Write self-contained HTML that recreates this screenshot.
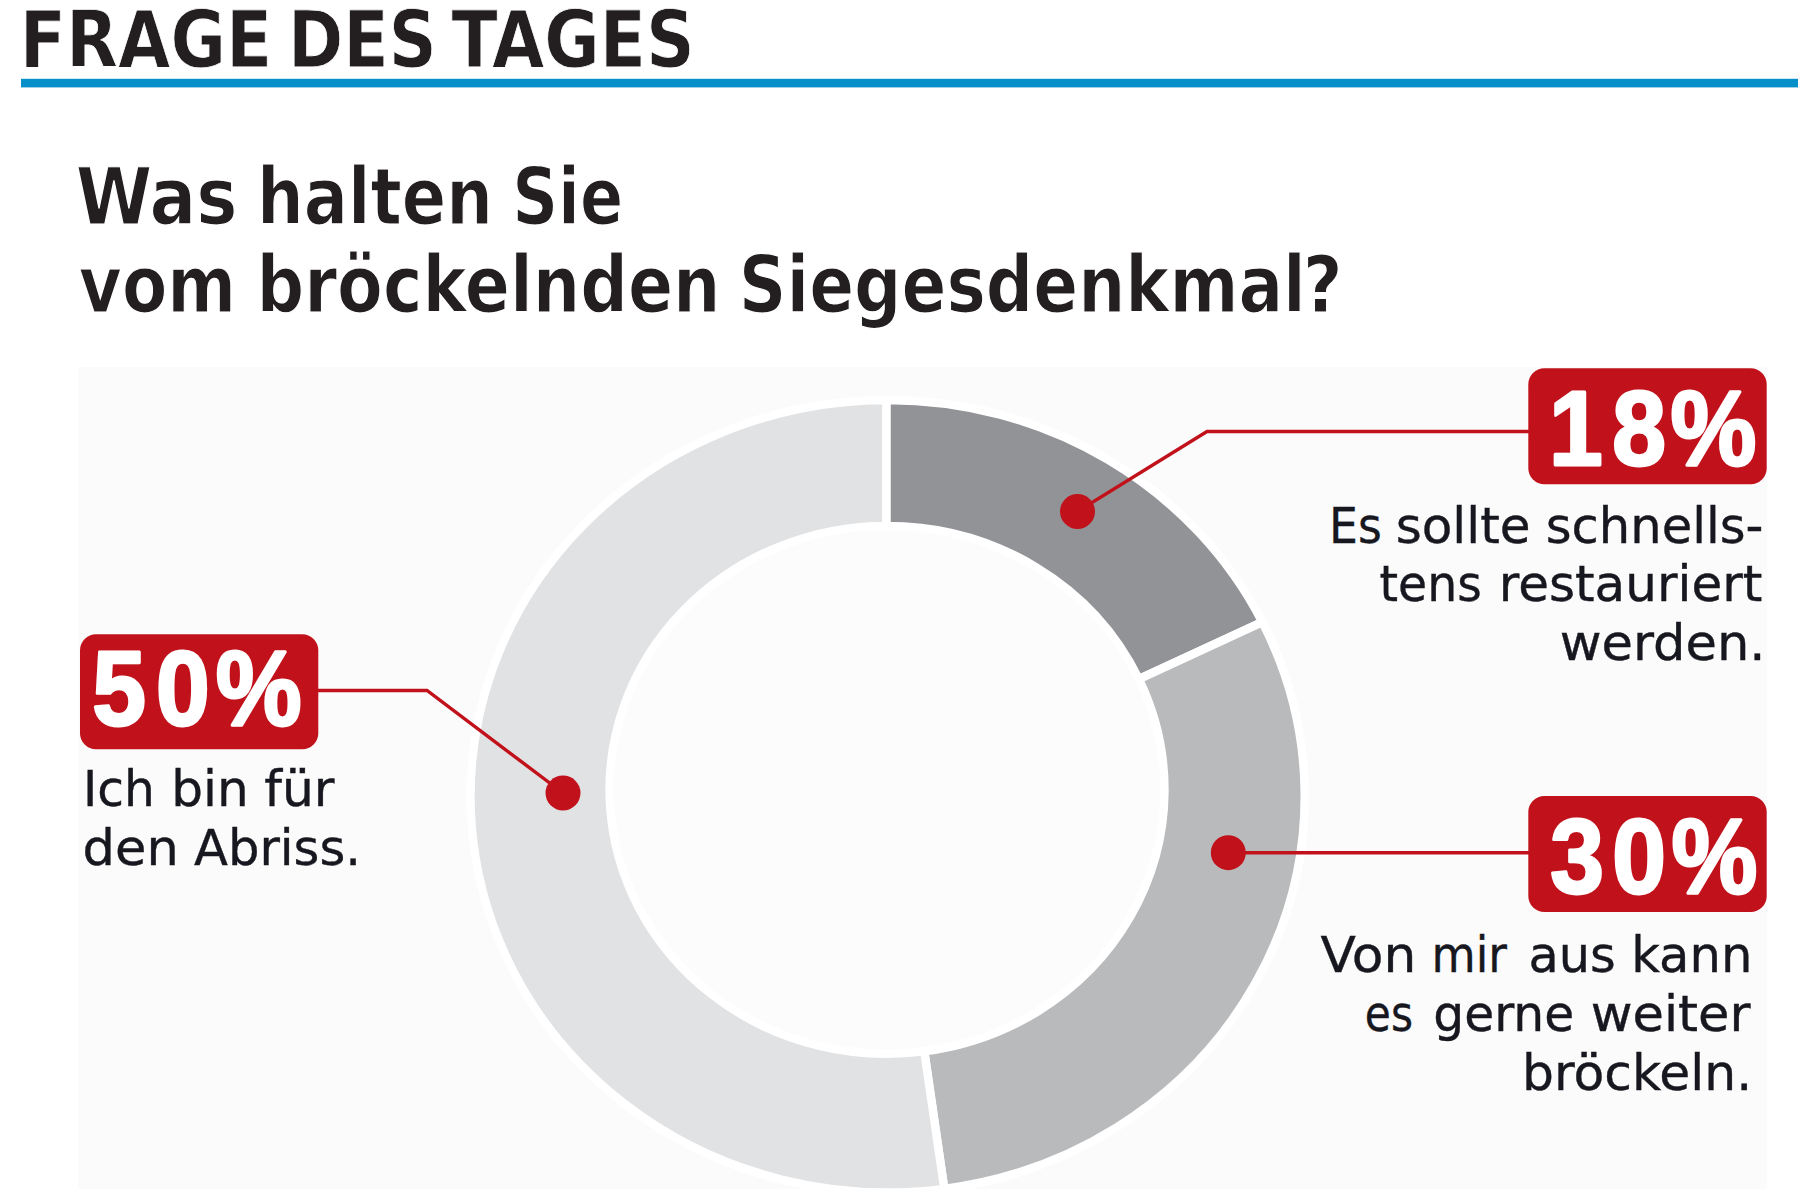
<!DOCTYPE html>
<html lang="de">
<head>
<meta charset="utf-8">
<title>Frage des Tages</title>
<style>
html,body{margin:0;padding:0;background:#ffffff;}
body{width:1800px;height:1200px;overflow:hidden;position:relative;}
svg{display:block;position:absolute;left:0;top:0;}
text{white-space:pre;}
.hd{font-family:"DejaVu Sans Condensed","DejaVu Sans","Liberation Sans",sans-serif;font-weight:700;font-size:79.1px;fill:#231f20;stroke:#ffffff;stroke-linejoin:miter;}
.h0{font-size:77.9px;stroke-width:0.8px;}
.h1{stroke-width:1.2px;}
.num{font-family:"Liberation Sans",sans-serif;font-weight:700;font-size:105.5px;fill:#ffffff;stroke:#ffffff;stroke-width:3.0px;stroke-linejoin:round;}
.lbl{font-family:"DejaVu Sans","Liberation Sans",sans-serif;font-weight:400;fill:#17171f;font-size:50.3px;stroke:#17171f;stroke-width:0.4px;}
</style>
</head>
<body>
<svg width="1800" height="1200" viewBox="0 0 1800 1200" role="img" aria-label="Frage des Tages: Was halten Sie vom bröckelnden Siegesdenkmal?">
<rect x="0" y="0" width="1800" height="1200" fill="#ffffff"/>
<!-- header -->
<text class="hd h0" y="67.1"><tspan x="19.81" textLength="252.30" lengthAdjust="spacingAndGlyphs">FRAGE</tspan> <tspan x="287.90" textLength="148.75" lengthAdjust="spacingAndGlyphs">DES</tspan> <tspan x="451.60" textLength="243.11" lengthAdjust="spacingAndGlyphs">TAGES</tspan></text>
<rect x="21" y="78.8" width="1777" height="8.6" fill="#078fca"/>
<!-- question -->
<text class="hd h1" y="223.6"><tspan x="75.75" textLength="161.73" lengthAdjust="spacingAndGlyphs">Was</tspan> <tspan x="257.09" textLength="235.81" lengthAdjust="spacingAndGlyphs">halten</tspan> <tspan x="512.22" textLength="110.91" lengthAdjust="spacingAndGlyphs">Sie</tspan></text>
<text class="hd h1" y="312.3"><tspan x="78.87" textLength="157.21" lengthAdjust="spacingAndGlyphs">vom</tspan> <tspan x="256.52" textLength="464.06" lengthAdjust="spacingAndGlyphs">bröckelnden</tspan> <tspan x="738.75" textLength="567.05" lengthAdjust="spacingAndGlyphs">Siegesdenkmal</tspan><tspan x="1302.83" textLength="39.91" lengthAdjust="spacingAndGlyphs">?</tspan></text>
<!-- chart panel -->
<rect x="78" y="367" width="1689" height="822" fill="#fbfbfb"/>
<ellipse cx="887.75" cy="796.25" rx="420.75" ry="400.05" fill="#ffffff"/>
<ellipse cx="887.1" cy="789.85" rx="273.60" ry="260.15" fill="#fcfcfc"/>
<g stroke="#ffffff" stroke-width="8.4" stroke-linejoin="miter">
<path d="M886.3 400.0 A416.95 396.25 0 0 1 1262.3 622.1 L1138.9 679.1 A277.40 263.95 0 0 0 886.3 525.9 Z" fill="#929397"/>
<path d="M1262.3 622.1 A416.95 396.25 0 0 1 944.3 1188.8 L924.3 1051.4 A277.40 263.95 0 0 0 1138.9 679.1 Z" fill="#b9babc"/>
<path d="M944.3 1188.8 A416.95 396.25 0 1 1 886.3 400.0 L886.3 525.9 A277.40 263.95 0 1 0 924.3 1051.4 Z" fill="#e1e2e4"/>
</g>
<!-- leader lines -->
<g fill="none" stroke="#c1121c" stroke-width="3.4">
<polyline points="1530,431.5 1207,431.5 1077.5,511.5"/>
<polyline points="1530,852.7 1228,852.7"/>
<polyline points="316,690.5 427,690.5 563,793"/>
</g>
<g fill="#c1121c">
<circle cx="1077.5" cy="511.5" r="17.5"/>
<circle cx="1228.3" cy="852.7" r="17.5"/>
<circle cx="563" cy="793" r="17.5"/>
<rect x="1528.3" y="368.3" width="238.4" height="116" rx="16" ry="16"/>
<rect x="1528.3" y="796" width="238.4" height="116" rx="16" ry="16"/>
<rect x="80" y="634.2" width="238.3" height="115" rx="16" ry="16"/>
</g>
<!-- 18% -->
<text class="num" transform="scale(0.915,1)" y="465.3" x="1693.04 1761.92 1825.68">18%</text>
<text class="lbl" y="542.9"><tspan x="1329.06" textLength="52.74" lengthAdjust="spacingAndGlyphs">Es</tspan> <tspan x="1395.71" textLength="134.82" lengthAdjust="spacingAndGlyphs">sollte</tspan> <tspan x="1545.73" textLength="217.69" lengthAdjust="spacingAndGlyphs">schnells-</tspan></text>
<text class="lbl" y="601.2"><tspan x="1379.56" textLength="102.31" lengthAdjust="spacingAndGlyphs">tens</tspan> <tspan x="1498.72" textLength="263.59" lengthAdjust="spacingAndGlyphs">restauriert</tspan></text>
<text class="lbl" y="659.9"><tspan x="1559.77" textLength="205.80" lengthAdjust="spacingAndGlyphs">werden.</tspan></text>
<!-- 30% -->
<text class="num" transform="scale(0.915,1)" y="893.3" x="1694.18 1761.98 1826.83">30%</text>
<text class="lbl" y="971.8"><tspan x="1320.40" textLength="95.89" lengthAdjust="spacingAndGlyphs">Von</tspan> <tspan x="1431.59" textLength="75.42" lengthAdjust="spacingAndGlyphs">mir</tspan> <tspan x="1528.45" textLength="87.31" lengthAdjust="spacingAndGlyphs">aus</tspan> <tspan x="1631.26" textLength="121.07" lengthAdjust="spacingAndGlyphs">kann</tspan></text>
<text class="lbl" y="1030.7"><tspan x="1364.82" textLength="48.14" lengthAdjust="spacingAndGlyphs">es</tspan> <tspan x="1433.26" textLength="140.92" lengthAdjust="spacingAndGlyphs">gerne</tspan> <tspan x="1590.67" textLength="159.91" lengthAdjust="spacingAndGlyphs">weiter</tspan></text>
<text class="lbl" y="1089.8"><tspan x="1522.00" textLength="230.19" lengthAdjust="spacingAndGlyphs">bröckeln.</tspan></text>
<!-- 50% -->
<text class="num" transform="scale(0.915,1)" y="725.2" x="100.72 170.39 235.79">50%</text>
<text class="lbl" y="806"><tspan x="82.93" textLength="71.92" lengthAdjust="spacingAndGlyphs">Ich</tspan> <tspan x="171.22" textLength="77.44" lengthAdjust="spacingAndGlyphs">bin</tspan> <tspan x="264.20" textLength="70.28" lengthAdjust="spacingAndGlyphs">für</tspan></text>
<text class="lbl" y="865"><tspan x="82.57" textLength="96.17" lengthAdjust="spacingAndGlyphs">den</tspan> <tspan x="194.00" textLength="167.02" lengthAdjust="spacingAndGlyphs">Abriss.</tspan></text>
</svg>
</body>
</html>
